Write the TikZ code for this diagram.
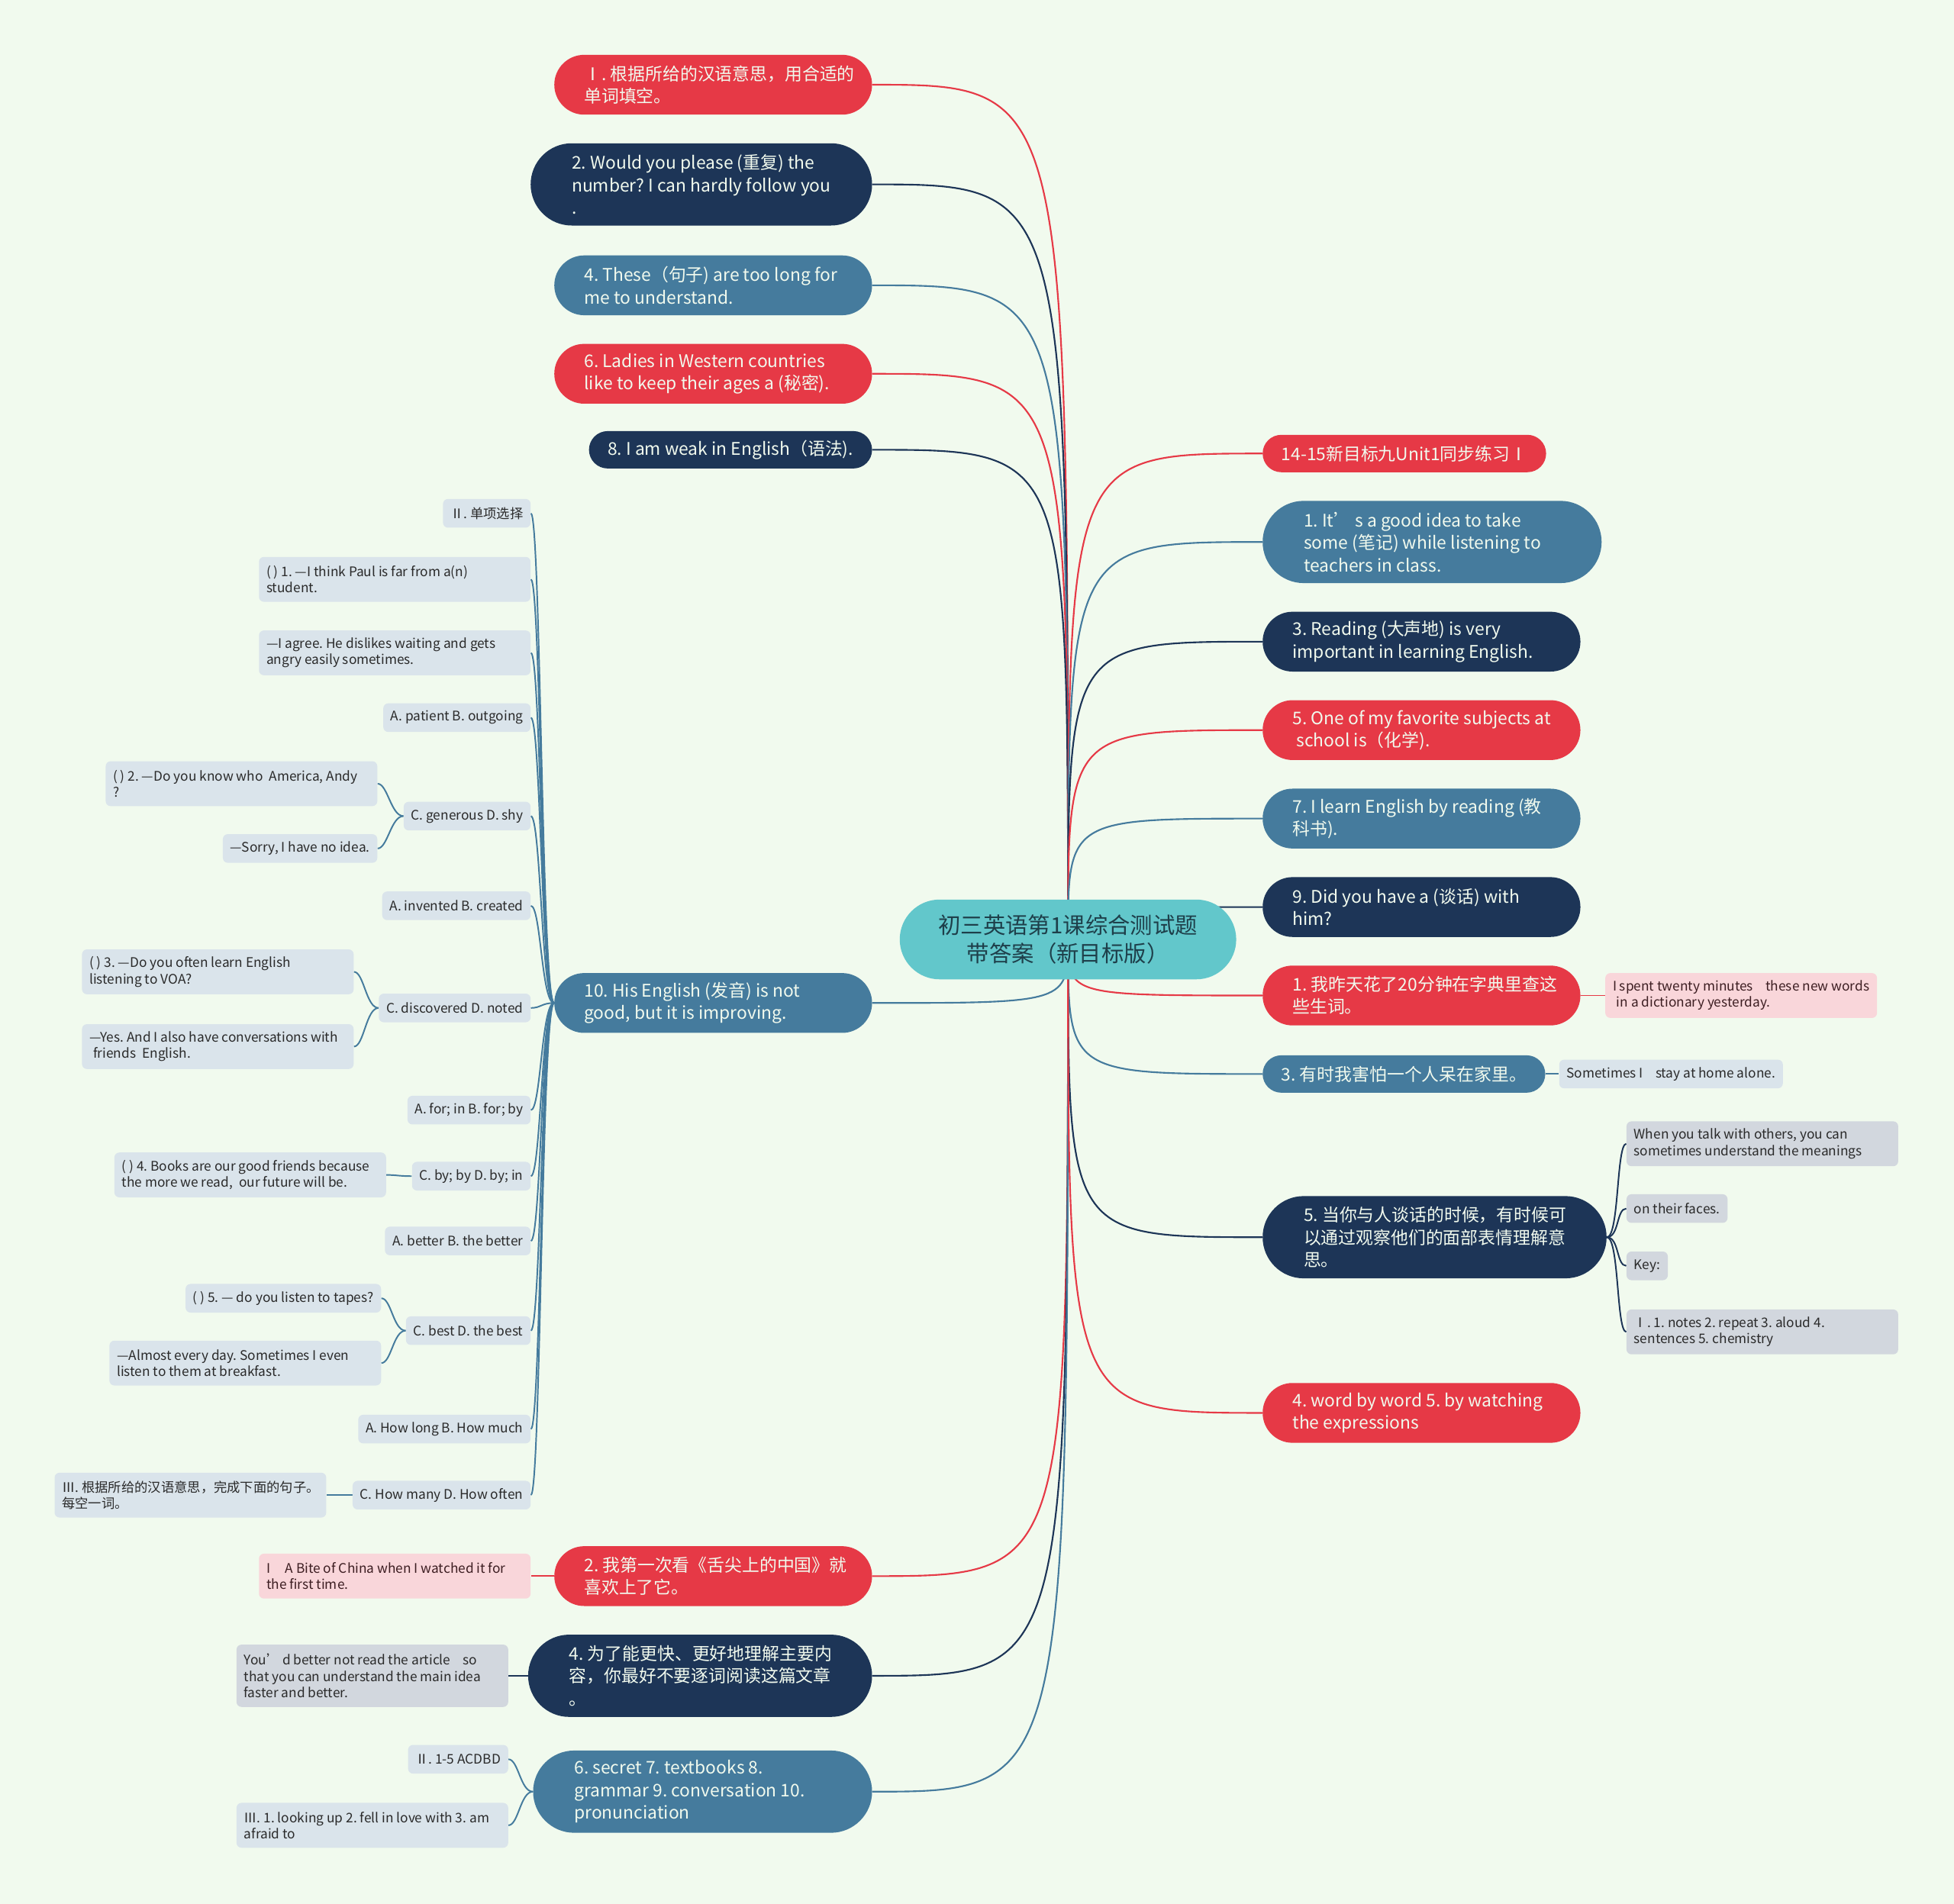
\documentclass[tikz,border=0pt]{standalone}
\usepackage{fontspec}
\setmainfont{Noto Sans CJK SC}
\usepackage{xcolor}
\usepackage{tikz}
\pgfdeclarelayer{bg}
\pgfsetlayers{bg,main}
\definecolor{bgGreen}{HTML}{F1FAEE}
\definecolor{topicRed}{HTML}{E63946}
\definecolor{topicNavy}{HTML}{1D3557}
\definecolor{topicBlue}{HTML}{457B9D}
\definecolor{rootTeal}{HTML}{62C7CB}
\definecolor{rootText}{HTML}{1E3F4A}
\definecolor{leafBlue}{HTML}{DAE4EB}
\definecolor{leafGrey}{HTML}{D2D7DE}
\definecolor{leafPink}{HTML}{F9D6DA}
\definecolor{leafText}{HTML}{2A2A2A}
\definecolor{pinkText}{HTML}{3D1E22}
% first line of a wrapped box, fixes the box width
\newcommand\boxline[2][207pt]{\makebox[#1][l]{#2}}

\tikzset{
    root/.style={fill=rootTeal, text=rootText, rounded corners=32pt,
        minimum width=270pt, minimum height=64pt, align=center,
        font=\fontsize{18}{23}\selectfont},
    topic/.style={text=bgGreen, align=left, inner ysep=3pt,
        font=\fontsize{14}{18}\selectfont\frenchspacing},
    oneline/.style={topic, rounded corners=15pt, minimum height=30pt, inner xsep=15pt},
    twoline/.style={topic, rounded corners=24pt, minimum height=48pt, inner xsep=24pt},
    threeline/.style={topic, rounded corners=33pt, minimum height=66pt, inner xsep=33pt},
    leaf/.style={rounded corners=4pt, inner xsep=6pt, inner ysep=4pt,
        minimum height=23pt, text=leafText, align=left,
        font=\fontsize{10.6}{13}\selectfont\frenchspacing},
    wideleaf/.style={leaf, minimum height=36pt},
    mainline/.style={line width=1.3pt},
    subline/.style={line width=1.2pt}
}

\begin{document}
\begin{tikzpicture}[x=1pt, y=-1pt]
    \useasboundingbox (0,0) rectangle (1568,1528);

    \node[root] (root) at (857,754) {初三英语第1课综合测试题\\带答案（新目标版）};

    % left topics
    \node[twoline, fill=topicRed, anchor=east] (l1) at (700,68)
        {\boxline{Ⅰ. 根据所给的汉语意思，用合适的}\\单词填空。};
    \node[threeline, fill=topicNavy, anchor=east] (l2) at (700,148)
        {\boxline[206pt]{2. Would you please (重复) the}\\number? I can hardly follow you\\.};
    \node[twoline, fill=topicBlue, anchor=east] (l3) at (700,229)
        {\boxline{4. These（句子) are too long for}\\me to understand.};
    \node[twoline, fill=topicRed, anchor=east] (l4) at (700,300)
        {\boxline{6. Ladies in Western countries}\\like to keep their ages a (秘密).};
    \node[oneline, fill=topicNavy, anchor=east] (l5) at (700,361)
        {8. I am weak in English（语法).};
    \node[twoline, fill=topicBlue, anchor=east] (l6) at (700,805)
        {\boxline{10. His English (发音) is not}\\good, but it is improving.};
    \node[twoline, fill=topicRed, anchor=east] (l7) at (700,1265)
        {\boxline{2. 我第一次看《舌尖上的中国》就}\\喜欢上了它。};
    \node[threeline, fill=topicNavy, anchor=east] (l8) at (700,1345)
        {\boxline[206pt]{4. 为了能更快、更好地理解主要内}\\容，你最好不要逐词阅读这篇文章\\。};
    \node[threeline, fill=topicBlue, anchor=east] (l9) at (700,1438)
        {\boxline[206pt]{6. secret 7. textbooks 8.}\\grammar 9. conversation 10.\\pronunciation};

    % right topics
    \node[oneline, fill=topicRed, anchor=west] (r1) at (1013,364)
        {14-15新目标九Unit1同步练习Ⅰ};
    \node[threeline, fill=topicBlue, anchor=west] (r2) at (1013,435)
        {\boxline[206pt]{1. It’ s a good idea to take}\\some (笔记) while listening to\\teachers in class.};
    \node[twoline, fill=topicNavy, anchor=west] (r3) at (1013,515)
        {\boxline{3. Reading (大声地) is very}\\important in learning English.};
    \node[twoline, fill=topicRed, anchor=west] (r4) at (1013,586)
        {\boxline{5. One of my favorite subjects at}\\\hspace{3pt}school is（化学).};
    \node[twoline, fill=topicBlue, anchor=west] (r5) at (1013,657)
        {\boxline{7. I learn English by reading (教}\\科书).};
    \node[twoline, fill=topicNavy, anchor=west] (r6) at (1013,728)
        {\boxline{9. Did you have a (谈话) with}\\him?};
    \node[twoline, fill=topicRed, anchor=west] (r7) at (1013,799)
        {\boxline{1. 我昨天花了20分钟在字典里查这}\\些生词。};
    \node[oneline, fill=topicBlue, anchor=west] (r8) at (1013,862)
        {3. 有时我害怕一个人呆在家里。};
    \node[threeline, fill=topicNavy, anchor=west] (r9) at (1013,993)
        {\boxline[206pt]{5. 当你与人谈话的时候，有时候可}\\以通过观察他们的面部表情理解意\\思。};
    \node[twoline, fill=topicRed, anchor=west] (r10) at (1013,1134)
        {\boxline{4. word by word 5. by watching}\\the expressions};

    % leaves of 10.
    \node[leaf, fill=leafBlue, anchor=east] (s1) at (426,412) {Ⅱ. 单项选择};
    \node[wideleaf, fill=leafBlue, anchor=east] (s2) at (426,465)
        {\boxline[206pt]{( ) 1. —I think Paul is far from a(n)}\\student.};
    \node[wideleaf, fill=leafBlue, anchor=east] (s3) at (426,524)
        {\boxline[206pt]{—I agree. He dislikes waiting and gets}\\angry easily sometimes.};
    \node[leaf, fill=leafBlue, anchor=east] (s4) at (426,576) {A. patient B. outgoing};
    \node[leaf, fill=leafBlue, anchor=east] (s5) at (426,655) {C. generous D. shy};
    \node[wideleaf, fill=leafBlue, anchor=east] (s5a) at (303,629)
        {\boxline[206pt]{( ) 2. —Do you know who\hspace{5pt}America, Andy}\\?};
    \node[leaf, fill=leafBlue, anchor=east] (s5b) at (303,681) {—Sorry, I have no idea.};
    \node[leaf, fill=leafBlue, anchor=east] (s6) at (426,727) {A. invented B. created};
    \node[leaf, fill=leafBlue, anchor=east] (s7) at (426,809) {C. discovered D. noted};
    \node[wideleaf, fill=leafBlue, anchor=east] (s7a) at (284,780)
        {\boxline[206pt]{( ) 3. —Do you often learn English}\\listening to VOA?};
    \node[wideleaf, fill=leafBlue, anchor=east] (s7b) at (284,840)
        {\boxline[206pt]{—Yes. And I also have conversations with}\\\hspace{3pt}friends\hspace{5pt}English.};
    \node[leaf, fill=leafBlue, anchor=east] (s8) at (426,891) {A. for; in B. for; by};
    \node[leaf, fill=leafBlue, anchor=east] (s9) at (426,944) {C. by; by D. by; in};
    \node[wideleaf, fill=leafBlue, anchor=east] (s9a) at (310,943)
        {\boxline[206pt]{( ) 4. Books are our good friends because}\\the more we read,\hspace{5pt}our future will be.};
    \node[leaf, fill=leafBlue, anchor=east] (s10) at (426,996) {A. better B. the better};
    \node[leaf, fill=leafBlue, anchor=east] (s11) at (426,1068) {C. best D. the best};
    \node[leaf, fill=leafBlue, anchor=east] (s11a) at (306,1042)
        {( ) 5. — do you listen to tapes?};
    \node[wideleaf, fill=leafBlue, anchor=east] (s11b) at (306,1094)
        {\boxline[206pt]{—Almost every day. Sometimes I even}\\listen to them at breakfast.};
    \node[leaf, fill=leafBlue, anchor=east] (s12) at (426,1147) {A. How long B. How much};
    \node[leaf, fill=leafBlue, anchor=east] (s13) at (426,1200) {C. How many D. How often};
    \node[wideleaf, fill=leafBlue, anchor=east] (s13a) at (262,1200)
        {\boxline[206pt]{Ⅲ. 根据所给的汉语意思，完成下面的句子。}\\每空一词。};

    % other left leaves
    \node[wideleaf, fill=leafPink, text=pinkText, anchor=east] (t7) at (426,1265)
        {\boxline[206pt]{I\hspace{12pt}A Bite of China when I watched it for}\\the first time.};
    \node[wideleaf, fill=leafGrey, anchor=east, minimum height=50pt] (t8) at (408,1345)
        {\boxline[206pt]{You’ d better not read the article\hspace{10pt}so}\\that you can understand the main idea\\faster and better.};
    \node[leaf, fill=leafBlue, anchor=east] (t9a) at (408,1412) {Ⅱ. 1-5 ACDBD};
    \node[wideleaf, fill=leafBlue, anchor=east] (t9b) at (408,1465)
        {\boxline[206pt]{Ⅲ. 1. looking up 2. fell in love with 3. am}\\afraid to};

    % right leaves
    \node[wideleaf, fill=leafPink, text=pinkText, anchor=west] (p7) at (1288,799)
        {\boxline[206pt]{I spent twenty minutes\hspace{10pt}these new words}\\\hspace{3pt}in a dictionary yesterday.};
    \node[leaf, fill=leafBlue, anchor=west] (p8) at (1251,862)
        {Sometimes I\hspace{10pt}stay at home alone.};
    \node[wideleaf, fill=leafGrey, anchor=west] (p9a) at (1305,918)
        {\boxline[206pt]{When you talk with others, you can}\\sometimes understand the meanings};
    \node[leaf, fill=leafGrey, anchor=west] (p9b) at (1305,970) {on their faces.};
    \node[leaf, fill=leafGrey, anchor=west] (p9c) at (1305,1016) {Key:};
    \node[wideleaf, fill=leafGrey, anchor=west] (p9d) at (1305,1069)
        {\boxline[206pt]{Ⅰ. 1. notes 2. repeat 3. aloud 4.}\\sentences 5. chemistry};

    \begin{pgfonlayer}{bg}
        \fill[bgGreen] (0,0) rectangle (1568,1528);
        % root to topics
        \foreach \n/\col in {l1/topicRed, l2/topicNavy, l3/topicBlue, l4/topicRed,
                l5/topicNavy, l6/topicBlue, l7/topicRed, l8/topicNavy, l9/topicBlue}
            \draw[mainline, \col] (root.center) .. controls (root.center |- \n.east) .. (\n.east);
        \foreach \n/\col in {r1/topicRed, r2/topicBlue, r3/topicNavy, r4/topicRed,
                r5/topicBlue, r6/topicNavy, r7/topicRed, r8/topicBlue, r9/topicNavy, r10/topicRed}
            \draw[mainline, \col] (root.center) .. controls (root.center |- \n.west) .. (\n.west);
        % topics to leaves
        \foreach \n in {s1,s2,s3,s4,s5,s6,s7,s8,s9,s10,s11,s12,s13}
            \draw[subline, topicBlue] (l6.west) .. controls +(-10,0) and +(8,0) .. (\n.east);
        \foreach \p/\n in {s5/s5a, s5/s5b, s7/s7a, s7/s7b, s9/s9a, s11/s11a, s11/s11b,
                s13/s13a, l9/t9a, l9/t9b}
            \draw[subline, topicBlue] (\p.west) .. controls +(-10,0) and +(8,0) .. (\n.east);
        \draw[subline, topicRed] (l7.west) -- (t7.east);
        \draw[subline, topicNavy] (l8.west) -- (t8.east);
        \draw[subline, topicRed] (r7.east) -- (p7.west);
        \draw[subline, topicBlue] (r8.east) -- (p8.west);
        \foreach \n in {p9a,p9b,p9c,p9d}
            \draw[subline, topicNavy] (r9.east) .. controls +(10,0) and +(-8,0) .. (\n.west);
    \end{pgfonlayer}
\end{tikzpicture}
\end{document}
